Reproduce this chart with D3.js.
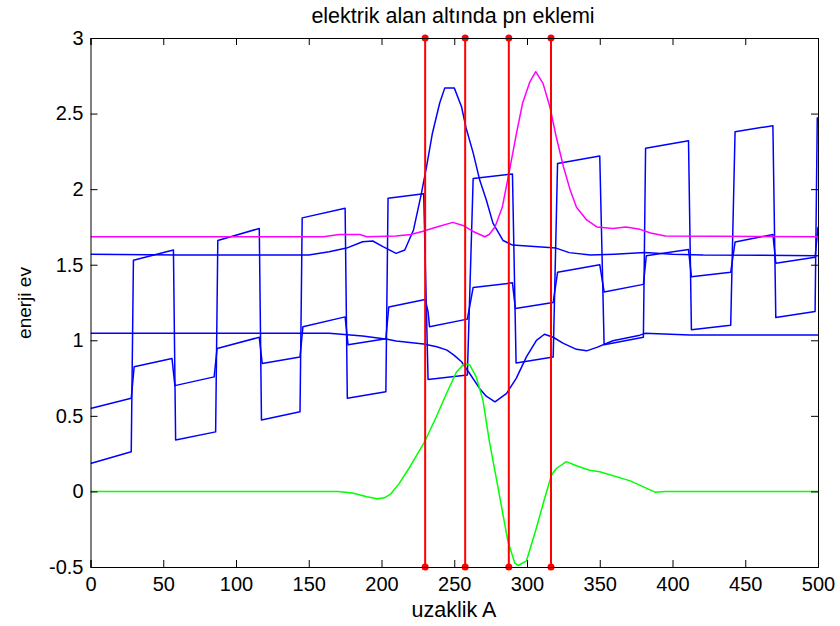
<!DOCTYPE html>
<html>
<head>
<meta charset="utf-8">
<script src="https://cdn.jsdelivr.net/npm/d3@7"></script>
<style>
  body { margin: 0; background: #fff; }
  text { font-family: Arial, "Liberation Sans", sans-serif; fill: #000; }
  .axis text { font-size: 20px; }
  .axis path, .axis line { stroke: #000; }
</style>
</head>
<body>
<div id="chart"></div>
<script>
// tick values
const xTicks = [0, 50, 100, 150, 200, 250, 300, 350, 400, 450, 500];
const yTicks = [-0.5, 0, 0.5, 1, 1.5, 2, 2.5, 3];

// red vertical markers (x positions)
const redLineX = [230, 257.5, 287.5, 316.5];

// big-amplitude stepped band (blue)
const bigStep = [
  [0,0.185],[28,0.262],[29.5,1.53],[57,1.597],[58.5,0.34],[86,0.394],[87.5,1.66],[116,1.74],
  [117.5,0.472],[144,0.527],[145.5,1.81],[175,1.873],[176.5,0.616],[203,0.66],[204.5,1.94],
  [229,1.97],[232,0.74],[259,0.77],[263,2.07],[290,2.10],[292.5,0.85],[318,0.89],[321,2.17],
  [350,2.22],[353,0.97],[380,1.02],[381.5,2.27],[411,2.32],[413,1.07],[440,1.10],[443,2.38],
  [469,2.42],[471,1.15],[498,1.19],[499.5,2.47],[500,2.47]
];

// small-amplitude stepped band (blue)
const smallStep = [
  [0,0.549],[28,0.616],[30,0.825],[56,0.88],[58,0.70],[85,0.758],[87,0.946],[116,1.02],
  [118,0.847],[144,0.89],[146,1.09],[175,1.155],[177,0.97],[203,1.01],[205,1.22],[230,1.27],
  [232,1.19],[233,1.09],[259,1.14],[263,1.35],[290,1.38],[292,1.21],[318,1.25],[321,1.45],
  [350,1.50],[353,1.32],[380,1.37],[382,1.56],[411,1.60],[413,1.42],[440,1.45],[443,1.65],
  [469,1.70],[471,1.51],[498,1.55],[500,1.75]
];

// upper smooth band (blue)
const upperBand = [
  [0,1.57],[60,1.565],[150,1.565],[164,1.586],[176,1.61],[187,1.652],[194,1.657],[201,1.62],
  [210,1.575],[216,1.597],[222,1.73],[227.4,1.97],[231,2.15],[235,2.37],[240,2.57],[243.5,2.67],
  [250,2.67],[255,2.545],[258,2.41],[263,2.24],[267.5,2.06],[272,1.93],[276.6,1.775],[283.6,1.66],
  [290,1.63],[305,1.62],[320,1.61],[329,1.58],[343.7,1.564],[360,1.57],[381,1.58],[400,1.57],
  [421,1.564],[500,1.56]
];

// lower smooth band (blue)
const lowerBand = [
  [0,1.046],[164,1.046],[187,1.028],[204,1.007],[210,0.995],[229,0.975],[238,0.957],[245,0.935],
  [250,0.90],[255,0.858],[260.6,0.78],[267.5,0.68],[272,0.63],[278,0.593],[286,0.649],[292.6,0.748],
  [299.6,0.89],[306.5,1.0],[312,1.04],[318,1.02],[325,0.98],[334,0.94],[341,0.93],[348,0.953],
  [359,0.997],[377.6,1.034],[381,1.046],[412,1.035],[500,1.035]
];

// magenta curve
const magentaPts = [
  [0,1.685],[160,1.685],[171,1.70],[185,1.70],[190,1.685],[210,1.69],[220,1.70],[228,1.72],
  [238,1.75],[249,1.78],[256,1.76],[263,1.72],[271,1.685],[274,1.70],[278,1.75],[283,1.88],
  [288,2.126],[292.8,2.37],[297,2.57],[302,2.71],[306,2.777],[311,2.70],[315.7,2.545],[320,2.35],
  [325,2.15],[329.5,2.0],[334,1.88],[341,1.796],[348,1.75],[359,1.74],[368,1.75],[377.6,1.734],
  [385,1.71],[395,1.69],[500,1.685]
];

// green curve
const greenPts = [
  [0,0],[170,0],[180,-0.01],[190,-0.035],[197,-0.048],[202,-0.042],[206,-0.02],[212,0.05],
  [220,0.17],[229.7,0.33],[237.7,0.494],[244.6,0.646],[251.5,0.79],[257,0.847],[260.7,0.836],
  [265,0.76],[269.7,0.604],[274,0.34],[280,0.03],[284,-0.18],[287,-0.335],[291.6,-0.474],
  [294,-0.49],[299.6,-0.46],[306.5,-0.24],[312,-0.05],[316.8,0.107],[320,0.15],[327,0.197],
  [334,0.17],[343,0.14],[350,0.13],[371,0.07],[380,0.03],[388,-0.005],[395,0],[500,0]
];

const width = 840;
const height = 626;
const margin = {top: 38, left: 90.5, right: 22, bottom: 59};

const svg = d3.select("#chart")
  .append("svg")
  .attr("width", width)
  .attr("height", height);

const xScale = d3.scaleLinear()
  .domain([0, 500])
  .range([margin.left, width - margin.right]);

const yScale = d3.scaleLinear()
  .domain([-0.5, 3])
  .range([height - margin.bottom, margin.top]);

svg.append("defs").append("clipPath").attr("id", "clip")
  .append("rect")
  .attr("x", margin.left).attr("y", margin.top)
  .attr("width", width - margin.left - margin.right)
  .attr("height", height - margin.top - margin.bottom);

const line = d3.line()
  .x(function(d) { return xScale(d[0]); })
  .y(function(d) { return yScale(d[1]); });

// data lines
const series = [
  {pts: bigStep, color: "#0000ff"},
  {pts: smallStep, color: "#0000ff"},
  {pts: upperBand, color: "#0000ff"},
  {pts: lowerBand, color: "#0000ff"},
  {pts: magentaPts, color: "#ff00ff"},
  {pts: greenPts, color: "#00ff00"}
];

const plot = svg.append("g").attr("clip-path", "url(#clip)");

plot.selectAll("path.series")
  .data(series)
  .enter()
  .append("path")
  .attr("class", "series")
  .attr("d", function(d) { return line(d.pts); })
  .attr("fill", "none")
  .attr("stroke", function(d) { return d.color; })
  .attr("stroke-width", 1.5)
  .attr("stroke-linejoin", "round");

// red vertical lines with dots at both ends
svg.selectAll("line.red")
  .data(redLineX)
  .enter()
  .append("line")
  .attr("class", "red")
  .attr("x1", function(d) { return xScale(d); })
  .attr("x2", function(d) { return xScale(d); })
  .attr("y1", yScale(-0.5))
  .attr("y2", yScale(3))
  .attr("stroke", "#ff0000")
  .attr("stroke-width", 2);

const ends = [];
redLineX.forEach(function(x) { ends.push([x, 3]); ends.push([x, -0.5]); });
svg.selectAll("circle.dot")
  .data(ends)
  .enter()
  .append("circle")
  .attr("class", "dot")
  .attr("cx", function(d) { return xScale(d[0]); })
  .attr("cy", function(d) { return yScale(d[1]); })
  .attr("r", 3.5)
  .attr("fill", "#ff0000");

// axes (matlab style box, ticks inward)
svg.append("g")
  .attr("class", "axis")
  .attr("transform", `translate(0,${height - margin.bottom})`)
  .call(d3.axisBottom(xScale).tickValues(xTicks).tickSize(-7).tickPadding(10)
    .tickFormat(function(d) { return String(d); }));

svg.append("g")
  .attr("class", "axis")
  .attr("transform", `translate(0,${margin.top})`)
  .call(d3.axisTop(xScale).tickValues(xTicks).tickSize(-7).tickFormat(""));

svg.append("g")
  .attr("class", "axis")
  .attr("transform", `translate(${margin.left},0)`)
  .call(d3.axisLeft(yScale).tickValues(yTicks).tickSize(-7).tickPadding(7)
    .tickFormat(function(d) { return String(d); }));

svg.append("g")
  .attr("class", "axis")
  .attr("transform", `translate(${width - margin.right},0)`)
  .call(d3.axisRight(yScale).tickValues(yTicks).tickSize(-7).tickFormat(""));

// title and labels
svg.append("text")
  .attr("x", 453)
  .attr("y", 23)
  .attr("text-anchor", "middle")
  .style("font-size", "21.5px")
  .text("elektrik alan altında pn eklemi");

svg.append("text")
  .attr("x", 454)
  .attr("y", 617)
  .attr("text-anchor", "middle")
  .style("font-size", "21.5px")
  .text("uzaklik A");

svg.append("text")
  .attr("transform", "rotate(-90)")
  .attr("x", -303)
  .attr("y", 31)
  .attr("text-anchor", "middle")
  .style("font-size", "19px")
  .text("enerji ev");
</script>
</body>
</html>
